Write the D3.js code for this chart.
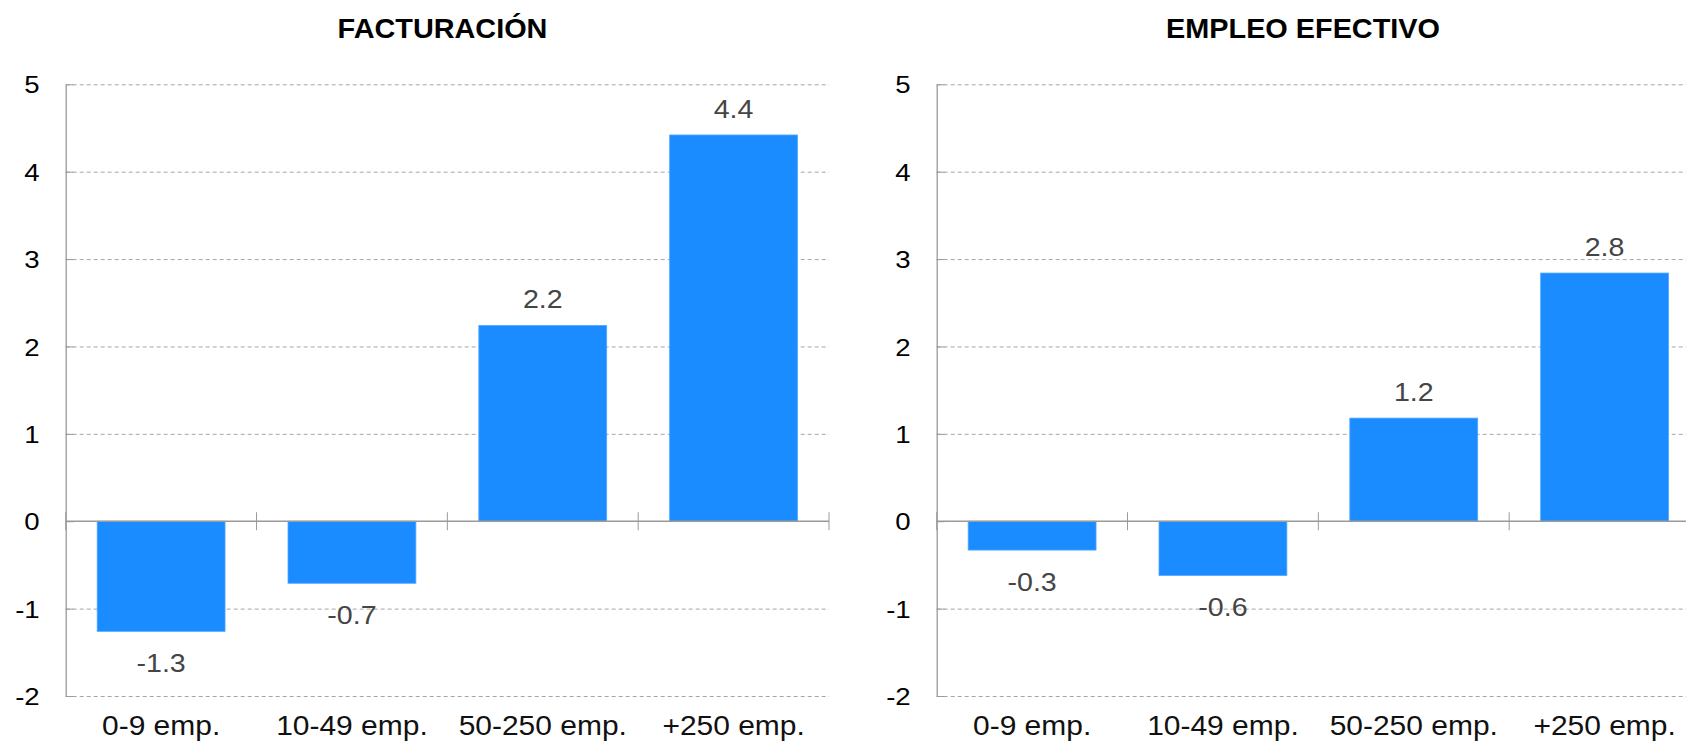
<!DOCTYPE html>
<html>
<head>
<meta charset="utf-8">
<script src="https://cdn.jsdelivr.net/npm/d3@7"></script>
<style>
  body { margin: 0; background: #fff; }
  svg { display: block; }
  text { font-family: "Liberation Sans", Arial, Helvetica, sans-serif; }
</style>
</head>
<body>
<script>
// Data: growth by company size (percent)
const categories = ["0-9 emp.", "10-49 emp.", "50-250 emp.", "+250 emp."];
const facturacion = [-1.26, -0.71, 2.24, 4.42];
const empleo = [-0.33, -0.62, 1.18, 2.84];
const yTicks = [-2, -1, 0, 1, 2, 3, 4, 5];
const panelTitles = ["FACTURACIÓN", "EMPLEO EFECTIVO"];

const W = 1686, H = 748;
const BAR_COLOR = "#1b8cff";
const GRID_COLOR = "#a6a6a6";
const AXIS_COLOR = "#9a9a9a";

// Panel layout (plot area bounds and title centre)
const panels = [
  { title: panelTitles[0], values: facturacion, x0: 65.7, x1: 829, titleX: 442.5 },
  { title: panelTitles[1], values: empleo,      x0: 936.7, x1: 1700, titleX: 1303 }
];
const yTop = 84.3, yBottom = 696;

const svg = d3.select("body").append("svg")
  .attr("width", W).attr("height", H)
  .attr("viewBox", `0 0 ${W} ${H}`);

// Number formats using a plain hyphen as the minus sign
const locale = d3.formatLocale({
  decimal: ".", thousands: ",", grouping: [3], currency: ["", ""], minus: "-"
});
const fmt = locale.format(".1f");
const fmtInt = locale.format("d");

// Place a horizontally stretched text element
function stretchedText(g, x, y, str, opts) {
  return g.append("text")
    .attr("transform", `translate(${x},${y}) scale(${opts.sx || 1},1)`)
    .attr("text-anchor", opts.anchor || "middle")
    .attr("font-size", opts.size)
    .attr("font-weight", opts.weight || "normal")
    .attr("fill", opts.fill || "#000")
    .text(str);
}

panels.forEach(p => {
  const g = svg.append("g");

  const x = d3.scaleBand()
    .domain(categories)
    .range([p.x0, p.x1])
    .paddingInner(0.33)
    .paddingOuter(0.165);

  const y = d3.scaleLinear()
    .domain([-2, 5])
    .range([yBottom, yTop]);

  // Title
  stretchedText(g, p.titleX, 37.5, p.title, { size: 28, weight: "bold", sx: 1.03, fill: "#000" });

  // Dashed horizontal gridlines
  const grid = g.append("g")
    .attr("transform", `translate(${p.x0},0)`)
    .call(d3.axisLeft(y)
      .tickValues(yTicks.filter(v => v !== 0))
      .tickSize(-(p.x1 - p.x0))
      .tickFormat(""));
  grid.select(".domain").remove();
  grid.selectAll(".tick line")
    .attr("stroke", GRID_COLOR)
    .attr("stroke-width", 1)
    .attr("stroke-dasharray", "4,3");

  // Short solid inner ticks on the value axis
  const inner = g.append("g")
    .attr("transform", `translate(${p.x0},0)`)
    .call(d3.axisRight(y).tickValues(yTicks).tickSize(8).tickFormat(""));
  inner.select(".domain").remove();
  inner.selectAll(".tick line").attr("stroke", AXIS_COLOR).attr("stroke-width", 1);

  // Value axis line and tick labels
  const yAxis = g.append("g")
    .attr("transform", `translate(${p.x0},0)`)
    .call(d3.axisLeft(y).tickValues(yTicks).tickSize(0).tickPadding(0).tickFormat(fmtInt));
  yAxis.select(".domain")
    .attr("stroke", AXIS_COLOR)
    .attr("stroke-width", 1.3);
  const ySx = 1.15;
  yAxis.selectAll(".tick text")
    .attr("font-size", 24)
    .attr("fill", "#000")
    .attr("font-family", '"Liberation Sans", Arial, Helvetica, sans-serif')
    .attr("dy", "0.36em")
    .attr("x", -26 / ySx)
    .attr("transform", `scale(${ySx},1)`);

  // Bars
  g.append("g").selectAll("rect")
    .data(categories.map((c, i) => ({ c, v: p.values[i] })))
    .join("rect")
    .attr("x", d => x(d.c))
    .attr("width", x.bandwidth())
    .attr("y", d => y(Math.max(0, d.v)))
    .attr("height", d => Math.abs(y(d.v) - y(0)))
    .attr("fill", BAR_COLOR)
    .attr("stroke", "#4ea6ff")
    .attr("stroke-width", 0.8);

  // Zero line
  g.append("line")
    .attr("x1", p.x0).attr("x2", p.x1)
    .attr("y1", y(0)).attr("y2", y(0))
    .attr("stroke", AXIS_COLOR)
    .attr("stroke-width", 1.6);

  // Category boundary ticks crossing the zero line
  const step = x.step();
  const bounds = categories.map(c => x(c) - step * x.paddingInner() / 2)
    .concat([x(categories[categories.length - 1]) + x.bandwidth() + step * x.paddingInner() / 2]);
  g.append("g").selectAll("line")
    .data(bounds)
    .join("line")
    .attr("x1", d => d).attr("x2", d => d)
    .attr("y1", y(0) - 9).attr("y2", y(0) + 9)
    .attr("stroke", AXIS_COLOR)
    .attr("stroke-width", 1);

  // Value labels: above positive bars, below negative bars
  categories.forEach((c, i) => {
    const v = p.values[i];
    const cx = x(c) + x.bandwidth() / 2;
    const ly = v >= 0 ? y(v) - 17 : y(v) + 40.5;
    stretchedText(g, cx, ly, fmt(v), { size: 26, sx: 1.1, fill: "#454545" });
  });

  // Category labels
  categories.forEach(c => {
    const cx = x(c) + x.bandwidth() / 2;
    stretchedText(g, cx, 735, c, { size: 27, sx: 1.11, fill: "#111" });
  });
});
</script>
</body>
</html>
